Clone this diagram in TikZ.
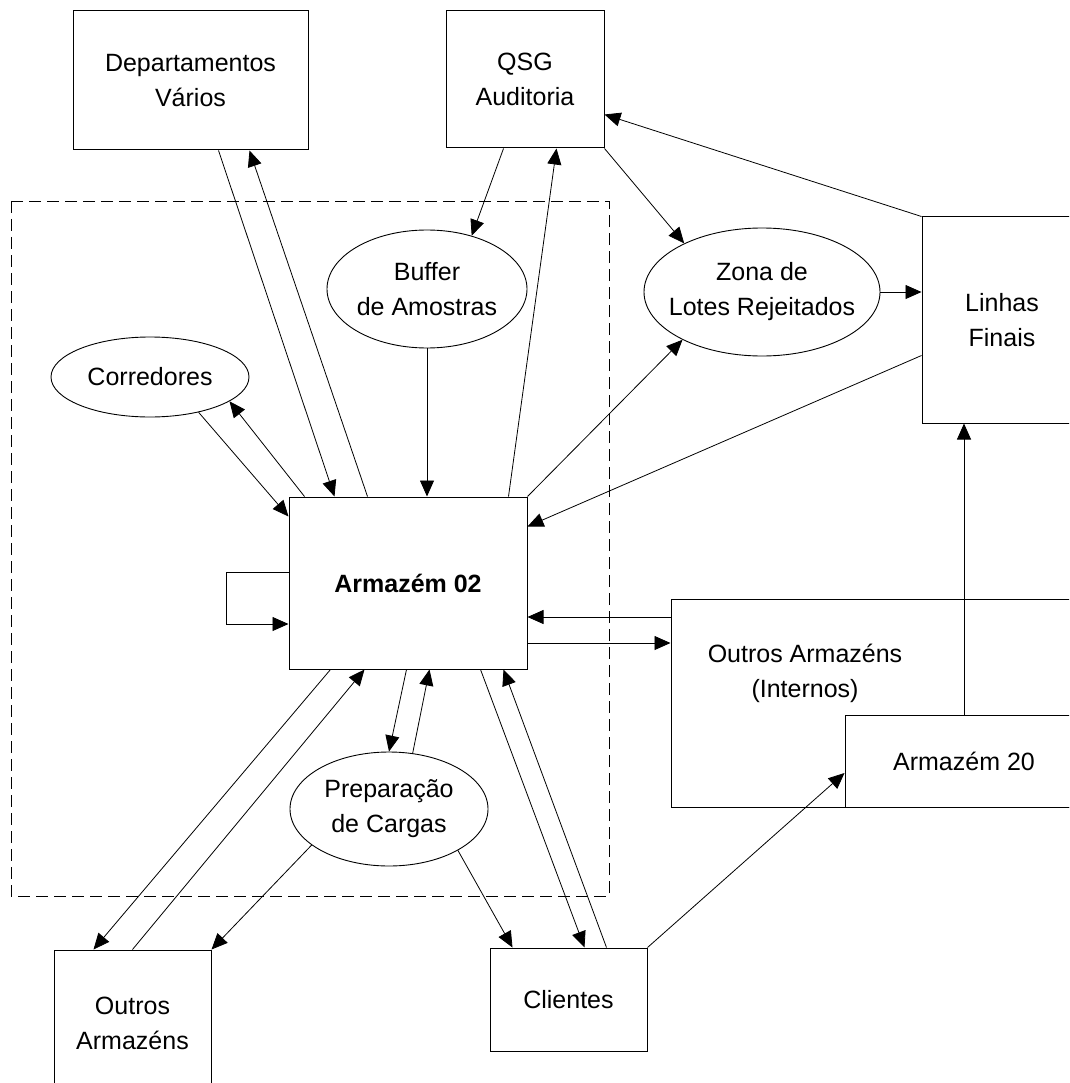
\documentclass[tikz,border=0pt]{standalone}
\usepackage{fontspec}
\setmainfont{Liberation Sans}
\usepackage{tikz}
\usetikzlibrary{arrows.meta,shapes.geometric,calc}
\newcommand\diaf{\fontsize{25pt}{35pt}\selectfont}

\begin{document}
\begin{tikzpicture}[x=1pt,y=-1pt,
  box/.style={draw,line width=1pt,inner sep=0pt,align=center,font=\diaf},
  oval/.style={draw,ellipse,line width=0.9pt,inner sep=0pt},
  txt/.style={align=center,font=\diaf},
  flow/.style={line width=0.8pt,-{Triangle[length=16pt,width=14pt]}},
  zone/.style={line width=0.8pt,dash pattern=on 12pt off 6pt}]
\useasboundingbox (0,0) rectangle (1069,1083);
\clip (0,0) rectangle (1069,1083);
\draw[zone] (11,201) rectangle (609,896);
% boxes
\node[box,minimum width=235pt,minimum height=139pt] (dept) at (190.5,80.5) {Departamentos\\Vários};
\node[box,minimum width=158pt,minimum height=137pt] (qsg) at (525,79.5) {QSG\\Auditoria};
\node[box,minimum width=238pt,minimum height=172pt,font=\diaf\bfseries] (arm) at (408,583) {Armazém 02};
\node[box,minimum width=160pt,minimum height=206pt] (lin) at (1002,320) {Linhas\\Finais};
\node[box,minimum width=440pt,minimum height=208pt] (outint) at (891,703) {};
\node[txt] (outinttxt) at (805,673) {Outros Armazéns\\(Internos)};
\node[box,fill=white,minimum width=238pt,minimum height=92pt] (a20) at (964,761) {Armazém 20};
\node[box,minimum width=157pt,minimum height=146pt] (outarm) at (132.5,1023) {Outros\\Armazéns};
\node[box,minimum width=157pt,minimum height=103pt] (cli) at (568.5,999.5) {Clientes};
% ovals
\node[oval,minimum width=198pt,minimum height=80pt] (corr) at (150,377) {};
\node[txt] (corrtxt) at (corr) {Corredores};
\node[oval,minimum width=200pt,minimum height=118pt] (bufr) at (427,289) {};
\node[txt] (bufrtxt) at (bufr) {Buffer\\de Amostras};
\node[oval,minimum width=236pt,minimum height=128pt] (zona) at (762,292) {};
\node[txt] (zonatxt) at (zona) {Zona de\\Lotes Rejeitados};
\node[oval,minimum width=198pt,minimum height=114pt] (prep) at (389,809) {};
\node[txt] (preptxt) at (prep) {Preparação\\de Cargas};
% top flows
\draw[flow] ($(dept.south west)+(146,0)$) -- ($(arm.north west)+(46,0)$);
\draw[flow] ($(arm.north west)+(79,0)$) -- ($(dept.south west)+(177,0)$);
\draw[flow] (bufr.south) -- (bufr.south |- arm.north);
\draw[flow] ($(qsg.south west)+(58,0)$) -- (bufr.50);
\draw[flow] ($(arm.north east)+(-19,0)$) -- ($(qsg.south west)+(111,0)$);
\draw[flow] (qsg.south east) -- (zona.148);
\draw[flow] (arm.north east) -- (zona.211);
\draw[flow] (zona.east) -- (zona.east -| lin.west);
\draw[flow] (lin.north west) -- ($(qsg.north east)+(0,104)$);
\draw[flow] ($(lin.north west)+(0,139)$) -- ($(arm.north east)+(0,30)$);
\draw[flow] ($(arm.north west)+(16,0)$) -- (corr.-17);
\draw[flow] (corr.-36) -- ($(arm.north west)+(0,20)$);
\draw[flow] ($(arm.west)+(0,-11)$) -- ++(-62,0) |- ($(arm.west)+(0,41)$);
% side flows
\coordinate (inR) at ($(arm.east)+(0,34)$);
\coordinate (outR) at ($(arm.east)+(0,60)$);
\draw[flow] (inR -| outint.west) -- (inR);
\draw[flow] (outR) -- (outR -| outint.west);
% bottom flows
\draw[flow] ($(arm.south west)+(42,0)$) -- ($(outarm.north west)+(40,0)$);
\draw[flow] (outarm.north) -- ($(arm.south west)+(76,0)$);
\draw[flow] ($(arm.south west)+(118,0)$) -- (prep.north);
\draw[flow] (prep.67) -- ($(arm.south west)+(141,0)$);
\draw[flow] (prep.205) -- (outarm.north east);
\draw[flow] (prep.-31) -- ($(cli.north west)+(23,0)$);
\draw[flow] ($(arm.south east)+(-47,0)$) -- ($(cli.north west)+(95,0)$);
\draw[flow] ($(cli.north west)+(117,0)$) -- ($(arm.south east)+(-24,0)$);
\draw[flow] (cli.north east) -- ($(a20.west)+(0,12)$);
\draw[flow] (a20.north) -- (a20.north |- lin.south);
\end{tikzpicture}
\end{document}
